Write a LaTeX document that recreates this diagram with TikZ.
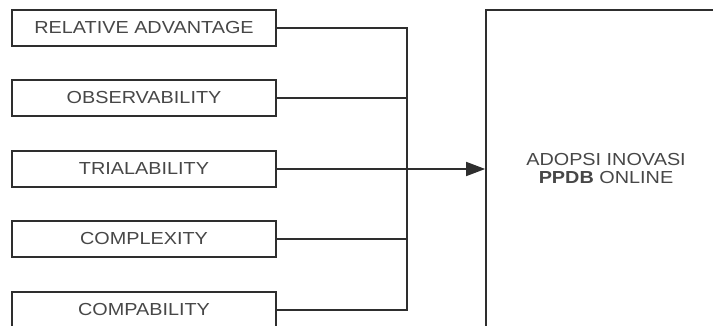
\documentclass[tikz,border=0pt]{standalone}
\usepackage{fontspec}
\setmainfont{Liberation Sans}[FakeStretch=1.14]
\usetikzlibrary{arrows.meta}
\definecolor{txt}{HTML}{474747}
\definecolor{ln}{HTML}{2E2E2E}
\begin{document}
\begin{tikzpicture}[x=1pt,y=-1pt,
  factor/.style={draw=ln, line width=1.7pt, minimum width=264pt, minimum height=36pt, inner sep=0pt, text=txt, font=\fontsize{17.4}{18}\selectfont},
  conn/.style={draw=ln, line width=1.7pt},
]
\useasboundingbox (0,0) rectangle (713,326);
\clip (0,0) rectangle (713,326);
\node[factor] (f1) at (144,28) {RELATIVE ADVANTAGE};
\node[factor] (f2) at (144,98) {OBSERVABILITY};
\node[factor] (f3) at (144,169) {TRIALABILITY};
\node[factor] (f4) at (144,239) {COMPLEXITY};
\node[factor] (f5) at (144,310) {COMPABILITY};
\node[factor, minimum width=240pt, minimum height=318pt, align=center] (big) at (606,169) {ADOPSI INOVASI\\\textbf{PPDB} ONLINE};
\coordinate (bus) at (407,0);
\draw[conn] (f1.east) -- (f1.east -| bus) -- (f5.east -| bus) -- (f5.east);
\draw[conn] (f2.east) -- (f2.east -| bus);
\draw[conn] (f4.east) -- (f4.east -| bus);
\draw[conn, -{Triangle[length=19pt,width=14pt]}] (f3.east) -- (big.west);
\end{tikzpicture}
\end{document}
